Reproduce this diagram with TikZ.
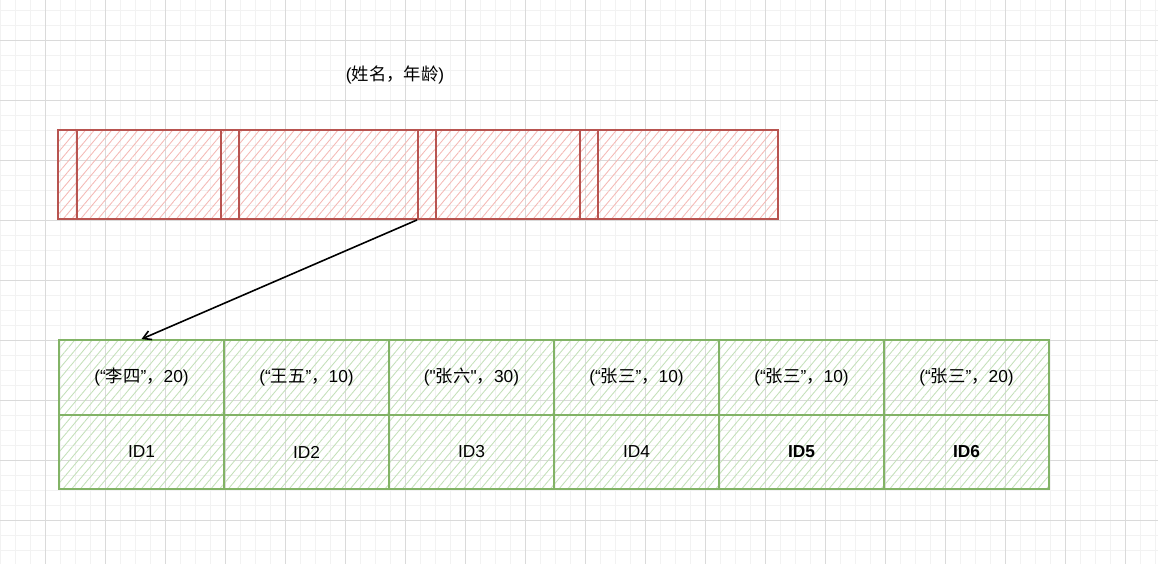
\documentclass[tikz,border=0pt]{standalone}
\usepackage{fontspec}
\setmainfont{Liberation Sans}[Ligatures=TeXOff]
\newfontfamily\cjkfont{Noto Sans CJK SC}
\usetikzlibrary{patterns.meta,arrows.meta}
\newcommand{\zh}[1]{{\cjkfont #1}}

\definecolor{minorgrid}{RGB}{242,242,242}
\definecolor{majorgrid}{RGB}{218,218,218}
\definecolor{redline}{RGB}{184,84,80}
\definecolor{redhatch}{RGB}{244,186,182}
\definecolor{greenline}{RGB}{130,179,102}
\definecolor{greenhatch}{RGB}{196,224,186}

\tikzset{every picture/.style={line width=0.75pt}}
\tikzset{
	redcell/.style={draw=redline, line width=1.4pt, inner sep=0pt, minimum height=66.75pt,
		pattern={Lines[angle=50,distance=5pt,line width=0.65pt]}, pattern color=redhatch},
	greencell/.style={draw=greenline, line width=1.4pt, inner sep=0pt, minimum width=123.75pt,
		pattern={Lines[angle=50,distance=5pt,line width=0.65pt]}, pattern color=greenhatch,
		font=\fontsize{13pt}{16pt}\selectfont},
	pointer/.style={draw=black, line width=1.2pt, -{Straight Barb[length=6pt,width=7pt]}}
}

\begin{document}
\begin{tikzpicture}[x=0.75pt,y=0.75pt,yscale=-1,xscale=1]
	\useasboundingbox (0,0) rectangle (1158,564);
	
	%Grid
	\foreach \gx in {0,15,...,1155} \draw[minorgrid] (\gx,0) -- (\gx,564);
	\foreach \gy in {10.7,25.7,...,560} \draw[minorgrid] (0,\gy) -- (1158,\gy);
	\foreach \gx in {45,105,...,1125} \draw[majorgrid] (\gx,0) -- (\gx,564);
	\foreach \gy in {40.7,100.7,...,560} \draw[majorgrid] (0,\gy) -- (1158,\gy);
	
	%Key cells [red]
	\foreach \cx/\w/\name in {67.5/14.25/r1, 149/108/r2, 230/13.5/r3, 328.5/134.25/r4,
		427/13.5/r5, 508/108/r6, 589/13.5/r7, 688/135/r8}
		\node[redcell, minimum width=\w pt] (\name) at (\cx,174.5) {};
	
	%Row cells [green]
	\foreach \i/\kv/\id in {1/(“\zh{李四}”\zh{，}20)/ID1, 2/(“\zh{王五}”\zh{，}10)/ID2,
		3/("\zh{张六}"\zh{，}30)/ID3, 4/(“\zh{张三}”\zh{，}10)/ID4,
		5/(“\zh{张三}”\zh{，}10)/\textbf{ID5}, 6/(“\zh{张三}”\zh{，}20)/\textbf{ID6}} {
		\node[greencell, minimum height=56.25pt] (g\i) at (141.5+165*\i-165,377.5) {\kv};
		\node[greencell, minimum height=55.5pt] (id\i) at (141.5+165*\i-165,452) {\id};
	}
	
	% Text Node
	\node[font=\fontsize{13pt}{16pt}\selectfont] (fields) at (395,75) {(\zh{姓名，年龄})};
	
	%Straight Lines
	\draw[pointer] (r5.south west) -- (g1.north);
	
\end{tikzpicture}
\end{document}
